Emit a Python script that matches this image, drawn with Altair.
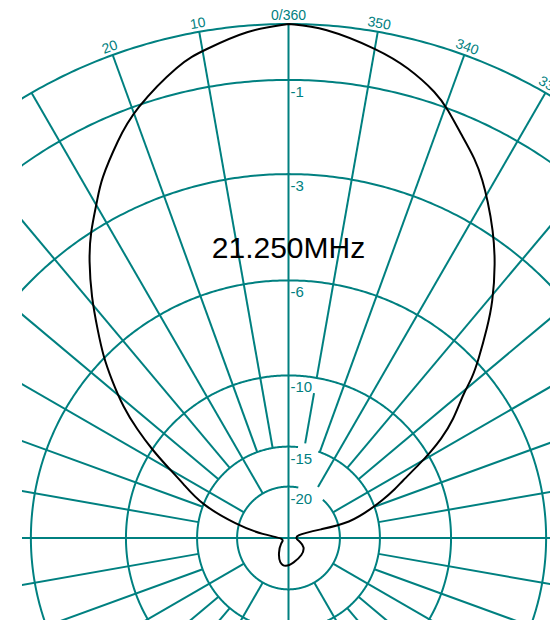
import numpy as np
import pandas as pd
import altair as alt

# ---------------- data ----------------
ring_db = [0, -1, -3, -6, -10, -15, -20]
ring_text = ["", "-1", "-3", "-6", "-10", "-15", "-20"]
spoke_az = list(range(0, 360, 10))
az_label_az = [20, 10, 0, 350, 340, 330]
az_label_text = ["20", "10", "0/360", "350", "340", "330"]
title_text = "21.250MHz"

# azimuth (deg, counter-clockwise from 0 at top) and relative gain (dB)
pattern_az = [0, 4.6, 9.9, 12.8, 19.9, 23.2, 27.7, 29.5, 33.0, 35.7, 39.3, 42.6,
              45.6, 48.2, 51.6, 54.4, 57.1, 59.6, 62.6, 68.9, 75.7, 83.2, 100,
              122, 146.3, 160.2, 174, 191.3, 219.5, 240.6, 251.6, 270, 286.7,
              286.4, 285.4, 283.6, 290.0, 291.4, 295.1, 296.2, 299.6, 301.2,
              302.8, 305.6, 309.6, 311.0, 313.1, 316.7, 319.0, 323.0, 326.4,
              329.5, 331.5, 333.7, 337.0, 339.6, 341.5, 345.8, 349.5, 356.1, 360]
pattern_db = [0, -0.07, -0.33, -0.45, -1.06, -1.49, -2.09, -2.44, -3.00, -3.54,
              -4.36, -5.22, -5.95, -6.72, -7.73, -8.83, -10.03, -11.30, -12.72,
              -14.75, -19.7, -26.2, -45, -34.8, -29.1, -25.7, -24.9, -26.1,
              -27.4, -28.9, -32.2, -38, -33.9, -29.3, -24.7, -18.1, -15.13,
              -14.31, -12.65, -12.29, -10.58, -9.82, -9.07, -8.07, -7.10, -6.50,
              -5.92, -4.97, -4.36, -3.49, -2.86, -2.35, -2.03, -1.71, -1.35,
              -1.02, -0.80, -0.49, -0.30, -0.03, 0]

# ---------------- layout / style ----------------
TEAL = "#008080"
R = 514.0                    # px radius of the 0 dB ring
CX, CY = 288.5, 538.0        # page position of the pole
PLOT_L, PLOT_T, PLOT_W, PLOT_H = 22, 8, 528, 612
FONT = "Liberation Sans, Arial, sans-serif"
TITLE_FONT = "Liberation Sans Narrow, Arial Narrow, Liberation Sans, sans-serif"

ring_gaps = {-15: (341, 354), -20: (318, 349)}
spoke_special = {350: [(-14.57, -10.87), (-9.98, 0)], 330: [(-18.8, 0)]}


def rho(db):
    return 10 ** (np.asarray(db, dtype=float) / 20.0)


def polar(az, r):
    a = np.radians(np.asarray(az, dtype=float))
    return -r * np.sin(a), r * np.cos(a)


# rings
rows = []
for db in ring_db:
    if db in ring_gaps:
        a0, a1 = ring_gaps[db]
        azs = np.arange(a1, a0 + 360 + 0.01, 0.5)
    else:
        azs = np.arange(0, 360.01, 0.5)
    xs, ys = polar(azs, rho(db))
    for i, (x, y) in enumerate(zip(xs, ys)):
        rows.append({"ring": str(db), "i": i, "x": x, "y": y})
rings_df = pd.DataFrame(rows)

# spokes
rows = []
for az in spoke_az:
    if az in spoke_special:
        segs = spoke_special[az]
    elif az % 90 == 0:
        segs = [(None, 0)]
    elif az % 30 == 0:
        segs = [(-20, 0)]
    else:
        segs = [(-15, 0)]
    for d0, d1 in segs:
        r0 = 0.0 if d0 is None else float(rho(d0))
        r1 = float(rho(d1))
        x0, y0 = polar(az, r0)
        x1, y1 = polar(az, r1)
        rows.append({"x": float(x0), "y": float(y0), "x2": float(x1), "y2": float(y1)})
spokes_df = pd.DataFrame(rows)

# pattern
px, py = polar(pattern_az, rho(pattern_db))
pattern_df = pd.DataFrame({"i": range(len(px)), "x": px, "y": py})

# dB labels
dbl_df = pd.DataFrame({"x": [0.0] * (len(ring_db) - 1),
                       "y": [float(rho(d)) for d in ring_db[1:]],
                       "t": ring_text[1:]})

# azimuth labels
lr = 1 + 8 / R
lx, ly = polar(az_label_az, lr)
azl_df = pd.DataFrame({"x": lx, "y": ly, "t": az_label_text,
                       "ang": [(-a) % 360 for a in az_label_az]})

xdom = [(PLOT_L - CX) / R, (PLOT_L + PLOT_W - CX) / R]
ydom = [(CY - (PLOT_T + PLOT_H)) / R, (CY - PLOT_T) / R]
X = lambda f="x": alt.X(f"{f}:Q", scale=alt.Scale(domain=xdom, nice=False, zero=False), axis=None)
Y = lambda f="y": alt.Y(f"{f}:Q", scale=alt.Scale(domain=ydom, nice=False, zero=False), axis=None)

rings = alt.Chart(rings_df).mark_line(color=TEAL, strokeWidth=2, clip=True).encode(
    x=X(), y=Y(), detail="ring:N", order="i:Q")

spokes = alt.Chart(spokes_df).mark_rule(color=TEAL, strokeWidth=2, clip=True).encode(
    x=X(), y=Y(), x2="x2:Q", y2="y2:Q")

pattern = alt.Chart(pattern_df).mark_line(color="black", strokeWidth=2, clip=True,
                                          interpolate="basis").encode(
    x=X(), y=Y(), order="i:Q")

dbl = alt.Chart(dbl_df).mark_text(color=TEAL, font=FONT, fontSize=15, align="left",
                                  baseline="middle", dx=2, dy=12).encode(
    x=X(), y=Y(), text="t:N")

azl = alt.Chart(azl_df).mark_text(color=TEAL, font=FONT, fontSize=14, align="center",
                                  baseline="middle").encode(
    x=X(), y=Y(), text="t:N", angle=alt.Angle("ang:Q", scale=None))

title = alt.Chart(pd.DataFrame({"t": [title_text]})).mark_text(
    color="black", font=TITLE_FONT, fontSize=30, align="center", baseline="middle").encode(
    x=alt.value(CX - PLOT_L), y=alt.value(249 - PLOT_T), text="t:N")

chart = alt.layer(rings, spokes, pattern, dbl, azl, title).properties(
    width=PLOT_W, height=PLOT_H,
    padding={"left": PLOT_L - 8, "top": PLOT_T - 8, "right": 0, "bottom": 0},
    autosize=alt.AutoSizeParams(type="none"),
).configure_view(stroke=None)

chart.save("out.html", embed_options={"renderer": "svg", "actions": False})
